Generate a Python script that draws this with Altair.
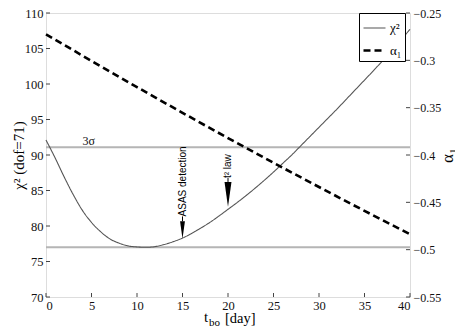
import altair as alt
import pandas as pd

# ---------------- data ----------------
t_vals = list(range(0, 41))
chi2_vals = [92.1, 89.6, 86.9, 84.4, 82.2, 80.5, 79.2, 78.2, 77.6, 77.2,
             77.05, 77.0, 77.1, 77.4, 77.8, 78.3, 78.95, 79.7, 80.5, 81.4,
             82.35, 83.3, 84.3, 85.35, 86.45, 87.6, 88.8, 90.0, 91.3, 92.6,
             93.9, 95.2, 96.5, 97.85, 99.2, 100.55, 101.9, 103.3, 104.75, 106.2, 107.7]

alpha_t = [0, 5, 10, 15, 20, 25, 30, 35, 40]
alpha_vals = [-0.2725, -0.3006, -0.3283, -0.3554, -0.3821, -0.4082, -0.4338, -0.4590, -0.4836]

levels = [77.0, 91.1]           # chi2_min and 3 sigma level
sigma_label = ["3σ"]
sigma_label_t = [4.7]
sigma_label_y = [92.0]

ann_text = ["ASAS detection", "t² law"]
ann_t = [15, 20]
ann_text_base = [81.35, 86.75]
ann_head_top = [80.66, 86.2]
ann_head_tip = [78.2, 82.7]

x_ticks = [0, 5, 10, 15, 20, 25, 30, 35, 40]
y_ticks = [70, 75, 80, 85, 90, 95, 100, 105, 110]
a_ticks = [-0.55, -0.5, -0.45, -0.4, -0.35, -0.3, -0.25]

series_names = ["χ²", "α₁"]

# ---------------- layout ----------------
W, H = 364, 284
SERIF = "Liberation Serif"
SANS = "Liberation Sans"
AX = "#444444"

xs = alt.Scale(domain=[0, 40], nice=False, zero=False)
ys = alt.Scale(domain=[70, 110], nice=False, zero=False)
as_ = alt.Scale(domain=[-0.55, -0.25], nice=False, zero=False)

color_scale = alt.Scale(domain=series_names, range=["#555555", "#000000"])
dash_scale = alt.Scale(domain=series_names, range=[[1, 0], [7, 4]])
width_scale = alt.Scale(domain=series_names, range=[1.1, 2.6])

x_axis = alt.Axis(values=x_ticks, title=None, labelFont=SERIF, labelFontSize=12.5,
                  labelColor="#111", labelPadding=2, domain=False, ticks=False, grid=False)
y_axis = alt.Axis(values=y_ticks, title="χ² (dof=71)", labelFont=SERIF, labelFontSize=12.5,
                  labelColor="#111", labelPadding=3, domain=False, ticks=False, grid=False,
                  titleFont=SERIF, titleFontSize=15, titleFontWeight="normal", titleColor="#000",
                  titleAngle=270, titleAlign="center", titleBaseline="middle",
                  titleX=-28, titleY=H / 2)
a_axis = alt.Axis(orient="right", values=a_ticks, format=".2~f", title="α₁",
                  labelFont=SERIF, labelFontSize=12, labelColor="#111", labelPadding=3,
                  domain=False, ticks=False, grid=False,
                  titleFont=SERIF, titleFontSize=17, titleFontWeight="normal", titleColor="#000",
                  titleAngle=270, titleAlign="center", titleBaseline="middle",
                  titleX=37, titleY=H / 2)

chi_df = pd.DataFrame({"t": t_vals, "chi2": chi2_vals, "series": series_names[0]})
al_df = pd.DataFrame({"t": alpha_t, "alpha": alpha_vals, "series": series_names[1]})
lev_df = pd.DataFrame({"level": levels})
sig_df = pd.DataFrame({"t": sigma_label_t, "v": sigma_label_y, "txt": sigma_label})

px_per_unit = H / 40.0
head_path = "M -0.28 -1 L 0.28 -1 L 0 1 Z"
ann_df = pd.DataFrame({
    "t": ann_t,
    "txt": ann_text,
    "base": ann_text_base,
    "top": ann_head_top,
    "tip": ann_head_tip,
})
ann_df["mid"] = (ann_df["top"] + ann_df["tip"]) / 2
ann_df["sz"] = ((ann_df["top"] - ann_df["tip"]) * px_per_unit) ** 2

legend = alt.Legend(
    title=None, orient="none", legendX=W - 51, legendY=0,
    symbolType="stroke", symbolSize=484, labelFont=SERIF, labelFontSize=13,
    labelColor="#000", padding=3, rowPadding=3, labelOffset=3,
    strokeColor="#000", fillColor="white", symbolStrokeColor="#000",
)


def Xq(field):
    return alt.X(field, type="quantitative", scale=xs, axis=x_axis)


def Yq(field):
    return alt.Y(field, type="quantitative", scale=ys, axis=y_axis)


def Aq(field):
    return alt.Y(field, type="quantitative", scale=as_, axis=a_axis)


chi_line = alt.Chart(chi_df).mark_line(interpolate="monotone").encode(
    x=Xq("t"), y=Yq("chi2"),
    color=alt.Color("series:N", scale=color_scale, legend=legend),
    strokeDash=alt.StrokeDash("series:N", scale=dash_scale, legend=legend),
    strokeWidth=alt.StrokeWidth("series:N", scale=width_scale, legend=legend),
)

lev_rules = alt.Chart(lev_df).mark_rule(color="#b5b5b5", strokeWidth=2).encode(
    y=Yq("level")
)

sig_text = alt.Chart(sig_df).mark_text(font=SERIF, fontSize=12, color="#111",
                                       baseline="middle", align="center").encode(
    x=Xq("t"), y=Yq("v"), text="txt:N"
)

ann_texts = alt.Chart(ann_df).mark_text(font=SANS, fontSize=10, angle=270,
                                        align="left", baseline="middle", color="#000").encode(
    x=Xq("t"), y=Yq("base"), text="txt:N"
)
ann_shaft = alt.Chart(ann_df).mark_rule(color="#000", strokeWidth=1).encode(
    x=Xq("t"), y=Yq("base"), y2="top:Q"
)
ann_head = alt.Chart(ann_df).mark_point(shape=head_path, filled=True, color="#000",
                                        opacity=1, strokeWidth=0).encode(
    x=Xq("t"), y=Yq("mid"),
    size=alt.Size("sz:Q", scale=None, legend=None),
)

xt_df = pd.DataFrame({"xt": x_ticks})
yt_df = pd.DataFrame({"yt": y_ticks})
at_df = pd.DataFrame({"at": a_ticks})

x_tick_marks = alt.Chart(xt_df).mark_rule(color=AX, strokeWidth=1).encode(
    x=Xq("xt"), y=alt.value(H), y2=alt.value(H - 4)
)
y_tick_marks = alt.Chart(yt_df).mark_rule(color=AX, strokeWidth=1).encode(
    y=Yq("yt"), x=alt.value(0), x2=alt.value(4)
)

title_t = alt.Chart(pd.DataFrame({"s": ["t"]})).mark_text(
    font=SERIF, fontSize=15, align="left", baseline="alphabetic", color="#000").encode(
    x=alt.value(158), y=alt.value(309), text="s:N")
title_bo = alt.Chart(pd.DataFrame({"s": ["bo"]})).mark_text(
    font=SERIF, fontSize=11, align="left", baseline="alphabetic", color="#000").encode(
    x=alt.value(163), y=alt.value(313), text="s:N")
title_day = alt.Chart(pd.DataFrame({"s": ["[day]"]})).mark_text(
    font=SERIF, fontSize=14.5, align="left", baseline="alphabetic", color="#000").encode(
    x=alt.value(179), y=alt.value(310), text="s:N")

left_layer = alt.layer(lev_rules, chi_line, sig_text, ann_texts, ann_shaft, ann_head,
                       x_tick_marks, y_tick_marks, title_t, title_bo, title_day)

al_line = alt.Chart(al_df).mark_line(interpolate="monotone").encode(
    x=Xq("t"), y=Aq("alpha"),
    color=alt.Color("series:N", scale=color_scale, legend=legend),
    strokeDash=alt.StrokeDash("series:N", scale=dash_scale, legend=legend),
    strokeWidth=alt.StrokeWidth("series:N", scale=width_scale, legend=legend),
)
a_tick_marks = alt.Chart(at_df).mark_rule(color=AX, strokeWidth=1).encode(
    y=Aq("at"), x=alt.value(W - 4), x2=alt.value(W)
)
right_layer = alt.layer(al_line, a_tick_marks)

# total SVG size: 38 + 364 + 45 = 447 wide, 5 + 284 + 30 = 319 tall
chart = alt.layer(left_layer, right_layer).resolve_scale(y="independent").properties(
    width=W, height=H,
    autosize=alt.AutoSizeParams(type="none"),
    padding={"left": 38, "top": 5, "right": 45, "bottom": 30},
).configure_view(stroke=AX, strokeWidth=1).configure(background="white")

chart.save("out.html", embed_options={"renderer": "svg", "actions": False})
